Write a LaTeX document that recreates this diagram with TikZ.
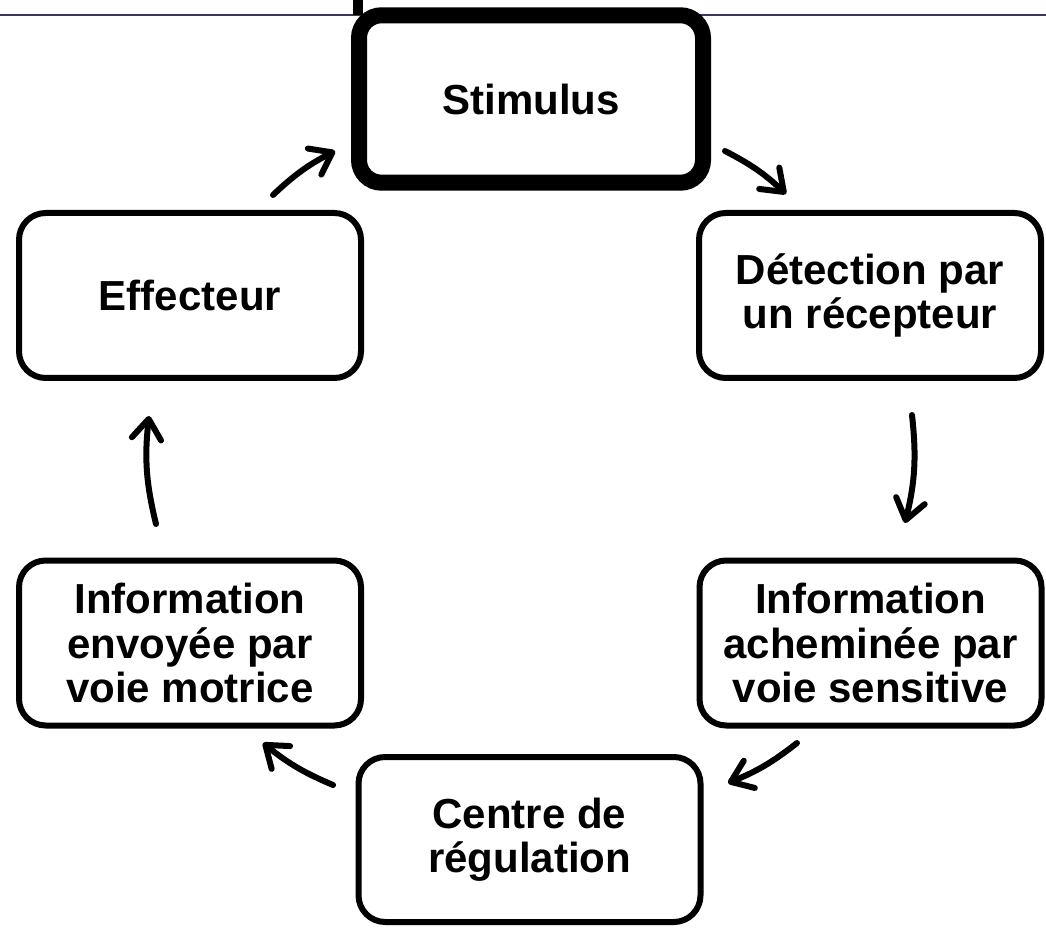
\documentclass[tikz,border=0pt]{standalone}
\usepackage{fontspec}
\setmainfont{Liberation Sans}
\usetikzlibrary{arrows.meta}
\definecolor{rulecol}{RGB}{55,55,95}
\tikzset{
  box/.style={draw=black, line width=4.5pt, rounded corners=20pt, fill=white,
    minimum width=256.5pt, minimum height=123.75pt, align=center, inner sep=0pt,
    font=\fontsize{31.5}{33.4}\selectfont\bfseries},
  mainbox/.style={box, line width=12pt, rounded corners=17pt,
    minimum width=258pt, minimum height=125.6pt},
  arr/.style={line width=4.5pt, line cap=round,
    -{Straight Barb[length=15pt, width=22pt, line cap=round, line join=round]}},
}
\begin{document}
\begin{tikzpicture}[x=0.75pt, y=-0.75pt]
\useasboundingbox (0,0) rectangle (1046,930);
% top rule and small bar
\draw[rulecol, line width=2pt] (0,15) -- (1046,15);
\fill[black] (353,0) rectangle (363,15);
% nodes
\node[mainbox] (stim) at (531,99) {Stimulus};
\node[box] (eff) at (190,295.5) {Effecteur};
\node[box] (det) at (870,295.5) {Détection par\\un récepteur};
\node[box] (ach) at (870.5,643) {Information\\acheminée par\\voie sensitive};
\node[box] (cen) at (529.5,839.5) {Centre de\\régulation};
\node[box] (env) at (190,643) {Information\\envoyée par\\voie motrice};
% arrows
\draw[arr] ([shift={(83,-100.5)}]eff.center) to[bend left=8] ([shift={(-196,52)}]stim.center);
\draw[arr] ([shift={(194,52)}]stim.center) to[bend left=8] ([shift={(-84,-101.5)}]det.center);
\draw[arr] ([shift={(42,119.5)}]det.center) to[bend left=10] ([shift={(34.5,-120)}]ach.center);
\draw[arr] ([shift={(-73.5,100)}]ach.center) to[bend left=8] ([shift={(198.5,-56.5)}]cen.center);
\draw[arr] ([shift={(-196.5,-54.5)}]cen.center) to[bend left=8] ([shift={(73,100)}]env.center);
\draw[arr] ([shift={(-34,-119)}]env.center) to[bend left=10] ([shift={(-41,120.5)}]eff.center);
\end{tikzpicture}
\end{document}
